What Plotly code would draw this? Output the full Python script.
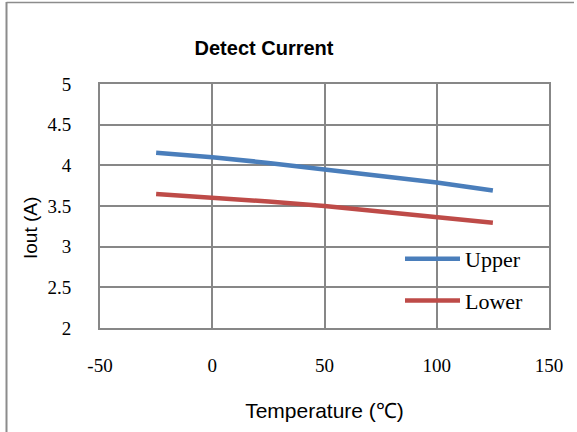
import plotly.graph_objects as go

temperature = [-25, 0, 25, 50, 75, 100, 125]
upper = [4.155, 4.10, 4.03, 3.95, 3.87, 3.79, 3.69]
lower = [3.648, 3.607, 3.555, 3.50, 3.43, 3.36, 3.295]
x_tick_values = [-50, 0, 50, 100, 150]
x_tick_labels = ["-50", "0", "50", "100", "150"]
y_tick_values = [2, 2.5, 3, 3.5, 4, 4.5, 5]
y_tick_labels = ["2", "2.5", "3", "3.5", "4", "4.5", "5"]

W, H = 577, 432
L, R, T, B = 100, 28, 84, 104
PW, PH = W - L - R, H - T - B

def px_x(px):
    return (px - L) / PW

def px_y(py):
    return 1 - (py - T) / PH

grid = "#878787"
serif = "Liberation Serif"
sans = "Liberation Sans"

fig = go.Figure()
fig.add_trace(go.Scatter(x=temperature, y=upper, mode="lines", name="Upper",
                         legendgroup="u",
                         line=dict(color="#4A7EBB", width=4.5)))
fig.add_trace(go.Scatter(x=temperature, y=lower, mode="lines", name="Lower",
                         legendgroup="l",
                         line=dict(color="#BE4B48", width=4.5)))

fig.update_layout(
    width=W, height=H,
    margin=dict(l=L, r=R, t=T, b=B),
    paper_bgcolor="white", plot_bgcolor="white",
    title=dict(text="<b>Detect Current</b>", x=264 / W, xref="container", xanchor="center",
               y=1 - 48 / H, yref="container", yanchor="middle",
               font=dict(family=sans, size=20, color="black")),
    xaxis=dict(range=[-50, 150], tickvals=x_tick_values, ticktext=x_tick_labels,
               showgrid=True, gridcolor=grid, gridwidth=2,
               showline=True, linecolor=grid, linewidth=2, mirror=True, zeroline=False,
               ticks="outside", ticklen=19, tickcolor="rgba(0,0,0,0)",
               tickfont=dict(family=serif, size=19, color="black"),
               title=dict(text="Temperature (℃)", standoff=29,
                          font=dict(family=sans, size=21, color="black"))),
    yaxis=dict(range=[2, 5], tickvals=y_tick_values, ticktext=y_tick_labels,
               showgrid=True, gridcolor=grid, gridwidth=2,
               showline=True, linecolor=grid, linewidth=2, mirror=True, zeroline=False,
               ticks="outside", ticklen=23, tickcolor="rgba(0,0,0,0)",
               tickfont=dict(family=serif, size=19, color="black")),
    legend=dict(x=px_x(400), y=px_y(238), xanchor="left", yanchor="top",
                bgcolor="rgba(0,0,0,0)", traceorder="grouped", tracegroupgap=10,
                itemwidth=55,
                font=dict(family=serif, size=22, color="black")),
    annotations=[dict(text="Iout (A)", textangle=-90, x=px_x(30), y=px_y(228),
                      xref="paper", yref="paper", showarrow=False,
                      xanchor="center", yanchor="middle",
                      font=dict(family=sans, size=19, color="black"))],
    shapes=[
        dict(type="line", xref="paper", yref="paper", x0=px_x(6.5), x1=px_x(6.5),
             y0=px_y(2), y1=px_y(440), line=dict(color="#8c8c8c", width=2)),
        dict(type="line", xref="paper", yref="paper", x0=px_x(6.5), x1=px_x(574),
             y0=px_y(2.5), y1=px_y(2.5), line=dict(color="#8c8c8c", width=1.5)),
    ],
)

fig.write_html("out.html", config={"displayModeBar": False},
               post_script="document.body.style.margin='0';")
